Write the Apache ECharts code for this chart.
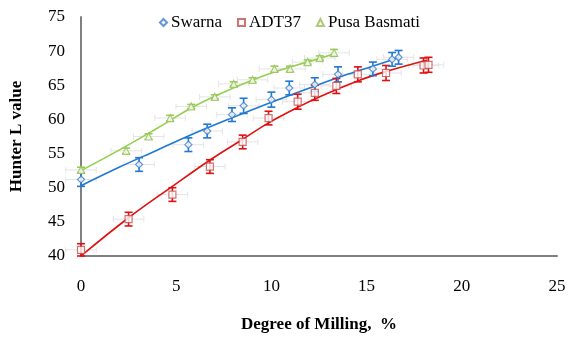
<!DOCTYPE html>
<html><head><meta charset="utf-8">
<script src="https://cdn.jsdelivr.net/npm/echarts@6/dist/echarts.min.js"></script>
<style>html,body{margin:0;padding:0;background:#fff}#c{width:571px;height:338px}</style>
</head><body><div id="c"></div>
<script>
// Measured points: [degree of milling %, Hunter L]
var swarnaX = [0, 3.05, 5.64, 6.63, 7.93, 8.54, 10.0, 10.94, 12.28, 13.5, 15.33, 16.34, 16.68];
var swarnaY = [51.2, 53.4, 56.3, 58.3, 60.7, 62.0, 62.9, 64.6, 65.1, 66.6, 67.4, 68.8, 69.1];
var swarnaErr = [1.0, 1.0, 1.0, 1.0, 1.0, 1.1, 1.1, 1.0, 1.0, 1.1, 1.0, 1.0, 1.0];

var adtX = [0, 2.5, 4.8, 6.77, 8.49, 9.85, 11.38, 12.28, 13.41, 14.54, 16.02, 17.99, 18.25];
var adtY = [40.9, 45.4, 49.0, 53.1, 56.7, 60.2, 62.6, 63.9, 64.9, 66.6, 66.8, 67.9, 68.0];
var adtErr = [0.9, 1.0, 1.0, 1.0, 1.0, 1.0, 1.1, 1.1, 1.1, 1.1, 1.1, 1.1, 1.1];

var pusaX = [0, 2.37, 3.55, 4.68, 5.79, 7.03, 8.02, 9.01, 10.16, 10.98, 11.9, 12.54, 13.29];
var pusaY = [52.6, 55.4, 57.5, 60.2, 61.9, 63.3, 65.2, 65.8, 67.4, 67.4, 68.4, 69.0, 69.75];
var pusaErr = [0.4, 0.4, 0.4, 0.4, 0.3, 0.3, 0.3, 0.3, 0.4, 0.4, 0.3, 0.3, 0.5];

var xErr = 0.8;

// Trend curves
var swarnaFitX = [0, 2, 4, 6, 8, 10, 12, 14, 16, 16.7];
var swarnaFitY = [50.3, 53.0, 55.5, 58.0, 60.3, 62.5, 64.6, 66.6, 68.4, 69.1];
var adtFitX = [0, 2.5, 4.8, 6.8, 8.5, 9.85, 11.4, 12.6, 14.5, 16.0, 18.2];
var adtFitY = [40.0, 45.6, 50.2, 54.1, 57.1, 59.5, 61.8, 63.4, 65.6, 67.0, 68.7];
var pusaFitX = [0, 2, 4, 6, 8, 10, 12, 13.3];
var pusaFitY = [52.5, 55.5, 58.7, 62.0, 64.6, 66.8, 68.5, 69.6];

var xTicks = [0, 5, 10, 15, 20, 25];
var yTicks = [40, 45, 50, 55, 60, 65, 70, 75];

var BLUE = '#1f78d1', BLUE_M = '#3d7cc9';
var RED = '#e01010', RED_M = '#c0504d';
var GREEN = '#92d050', GREEN_M = '#9bbb59';
var FONT = '"Liberation Serif", "Times New Roman", serif';

function zip(xs, ys) { return xs.map(function (x, i) { return [x, ys[i]]; }); }
function errData(xs, ys, es) { return xs.map(function (x, i) { return [x, ys[i] - es[i], ys[i] + es[i], ys[i]]; }); }

function vErr(color) {
  return function (params, api) {
    var x = api.value(0), lo = api.value(1), hi = api.value(2);
    var p1 = api.coord([x, lo]), p2 = api.coord([x, hi]);
    var w = 4;
    var st = { stroke: color, lineWidth: 1.6 };
    return { type: 'group', children: [
      { type: 'line', shape: { x1: p1[0], y1: p1[1], x2: p2[0], y2: p2[1] }, style: st },
      { type: 'line', shape: { x1: p1[0] - w, y1: p1[1], x2: p1[0] + w, y2: p1[1] }, style: st },
      { type: 'line', shape: { x1: p2[0] - w, y1: p2[1], x2: p2[0] + w, y2: p2[1] }, style: st }
    ]};
  };
}
function hErr(params, api) {
  var x = api.value(0), y = api.value(3);
  var p1 = api.coord([x - xErr, y]), p2 = api.coord([x + xErr, y]);
  var h = 3;
  var st = { stroke: '#e4e4e4', lineWidth: 1 };
  return { type: 'group', children: [
    { type: 'line', shape: { x1: p1[0], y1: p1[1], x2: p2[0], y2: p2[1] }, style: st },
    { type: 'line', shape: { x1: p1[0], y1: p1[1] - h, x2: p1[0], y2: p1[1] + h }, style: st },
    { type: 'line', shape: { x1: p2[0], y1: p2[1] - h, x2: p2[0], y2: p2[1] + h }, style: st }
  ]};
}

var chart = echarts.init(document.getElementById('c'), null, { renderer: 'canvas' });
function fitLine(name, xs, ys, color) {
  return { type: 'line', name: name + ' fit', data: zip(xs, ys), smooth: 0.4, showSymbol: false, symbol: 'none',
    lineStyle: { color: color, width: 1.6 }, z: 3, silent: true };
}
function marks(name, xs, ys, color, symbol, size) {
  return { type: 'scatter', name: name, data: zip(xs, ys), symbol: symbol, symbolSize: size,
    itemStyle: { color: '#fff', borderColor: color, borderWidth: 1.2 }, z: 6 };
}
function errs(xs, ys, es, color) {
  return [
    { type: 'custom', data: errData(xs, ys, es), renderItem: hErr, z: 1, silent: true, encode: { x: 0, y: [1, 2] } },
    { type: 'custom', data: errData(xs, ys, es), renderItem: vErr(color), z: 4, silent: true, encode: { x: 0, y: [1, 2] } }
  ];
}

var series = [].concat(
  errs(adtX, adtY, adtErr, RED), errs(swarnaX, swarnaY, swarnaErr, BLUE), errs(pusaX, pusaY, pusaErr, GREEN),
  [fitLine('ADT37', adtFitX, adtFitY, RED), fitLine('Swarna', swarnaFitX, swarnaFitY, BLUE), fitLine('Pusa Basmati', pusaFitX, pusaFitY, GREEN)],
  [marks('Swarna', swarnaX, swarnaY, BLUE_M, 'diamond', 7), marks('ADT37', adtX, adtY, RED_M, 'rect', 7), marks('Pusa Basmati', pusaX, pusaY, GREEN_M, 'triangle', 7)]
);

chart.setOption({
  animation: false,
  backgroundColor: '#fff',
  textStyle: { fontFamily: FONT },
  grid: { left: 78, right: 14, top: 17, bottom: 79, containLabel: false },
  legend: {
    data: ['Swarna', 'ADT37', 'Pusa Basmati'], top: 9, left: 154,
    itemWidth: 7, itemHeight: 7, itemGap: 15,
    textStyle: { fontFamily: FONT, fontSize: 17, color: '#000', padding: [0, 0, 0, -1] }
  },
  xAxis: {
    type: 'value', min: xTicks[0], max: xTicks[xTicks.length - 1], interval: 5,
    name: 'Degree of Milling,  %', nameLocation: 'middle', nameGap: 60,
    nameTextStyle: { fontFamily: FONT, fontSize: 17, fontWeight: 'bold', color: '#000' },
    axisLine: { show: true, lineStyle: { color: '#808080', width: 2 } },
    axisTick: { show: false }, splitLine: { show: false },
    axisLabel: { fontFamily: FONT, fontSize: 17, color: '#000', margin: 22 }
  },
  yAxis: {
    type: 'value', min: yTicks[0], max: yTicks[yTicks.length - 1], interval: 5,
    name: 'Hunter L value', nameLocation: 'middle', nameGap: 56, nameRotate: 90,
    nameTextStyle: { fontFamily: FONT, fontSize: 17, fontWeight: 'bold', color: '#000' },
    axisLine: { show: true, lineStyle: { color: '#808080', width: 2 } },
    axisTick: { show: false }, splitLine: { show: false },
    axisLabel: { fontFamily: FONT, fontSize: 17, color: '#000', margin: 16 }
  },
  series: series
});
</script></body></html>
